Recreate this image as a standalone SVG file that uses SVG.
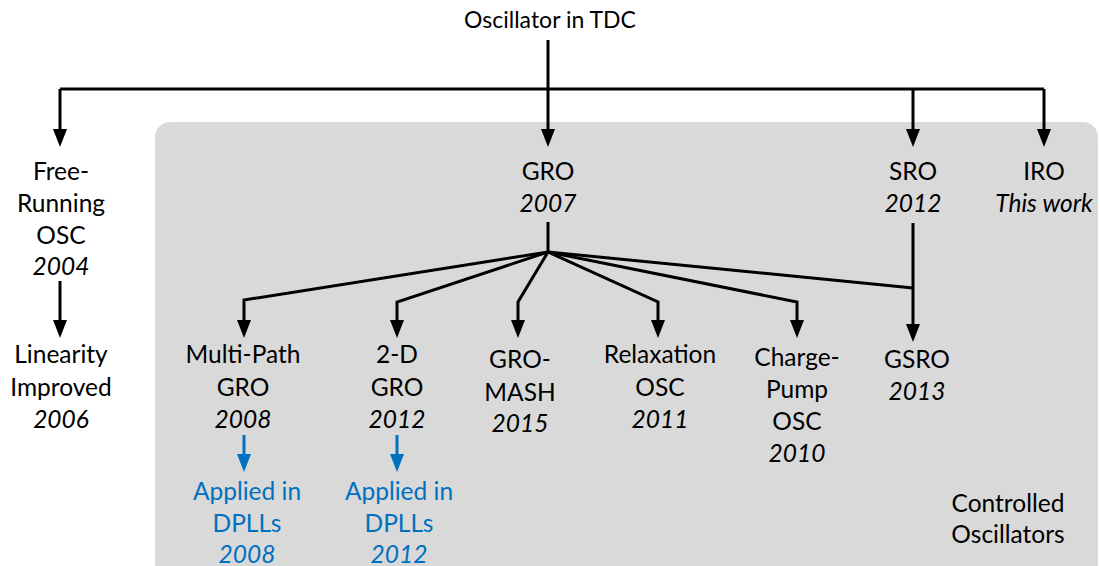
<svg xmlns="http://www.w3.org/2000/svg" width="1100" height="566" viewBox="0 0 1100 566">
  <defs>
    <style>
      text { font-family: Lato, "Open Sans", "Liberation Sans", sans-serif; font-size: 24.5px; fill: #000; text-anchor: middle; }
      .title { font-size: 23px; }
      .yr { font-style: italic; }
      .blue { fill: #0070c0; }
      .ln { fill: none; stroke: #000; stroke-width: 3; stroke-linejoin: miter; }
      .bln { fill: none; stroke: #0070c0; stroke-width: 3; }
    </style>
    <marker id="ah" markerUnits="userSpaceOnUse" markerWidth="18" markerHeight="14" refX="0" refY="7" orient="auto">
      <path d="M0,0 L18,7 L0,14 z" fill="#000"/>
    </marker>
    <marker id="ahb" markerUnits="userSpaceOnUse" markerWidth="18" markerHeight="14" refX="0" refY="7" orient="auto">
      <path d="M0,0 L18,7 L0,14 z" fill="#0070c0"/>
    </marker>
  </defs>

  <!-- shaded region for controlled oscillators -->
  <rect id="controlled-region" x="155" y="122" width="943" height="460" rx="15" ry="15" fill="#d9d9d9"/>

  <!-- connectors -->
  <g id="connectors">
    <path class="ln" d="M548,40 L548,89"/>
    <path class="ln" d="M60,89 L1044,89"/>
    <path class="ln" d="M60,89 L60,129" marker-end="url(#ah)"/>
    <path class="ln" d="M548,89 L548,129" marker-end="url(#ah)"/>
    <path class="ln" d="M913,89 L913,129" marker-end="url(#ah)"/>
    <path class="ln" d="M1044,89 L1044,129" marker-end="url(#ah)"/>
    <path class="ln" d="M60,281 L60,320" marker-end="url(#ah)"/>
    <path class="ln" d="M548,222 L548,252"/>
    <path class="ln" d="M548,252 L244,300 L244,320" marker-end="url(#ah)"/>
    <path class="ln" d="M548,252 L397,302 L397,320" marker-end="url(#ah)"/>
    <path class="ln" d="M548,252 L518,302 L518,320" marker-end="url(#ah)"/>
    <path class="ln" d="M548,252 L658,302 L658,320" marker-end="url(#ah)"/>
    <path class="ln" d="M548,252 L797,302 L797,320" marker-end="url(#ah)"/>
    <path class="ln" d="M548,252 L913,288"/>
    <path class="ln" d="M913,223 L913,324" marker-end="url(#ah)"/>
    <path class="bln" d="M244,435 L244,454" marker-end="url(#ahb)"/>
    <path class="bln" d="M397,435 L397,454" marker-end="url(#ahb)"/>
  </g>

  <g id="root"><text x="550" y="28" class="title">Oscillator in TDC</text></g>

  <g id="free-running">
    <text x="61" y="180">Free-</text>
    <text x="61" y="212">Running</text>
    <text x="61" y="244">OSC</text>
    <text x="61" y="275" class="yr">2004</text>
  </g>
  <g id="linearity">
    <text x="61" y="363">Linearity</text>
    <text x="61" y="396">Improved</text>
    <text x="61" y="428" class="yr">2006</text>
  </g>

  <g id="gro">
    <text x="548" y="180">GRO</text>
    <text x="548" y="212" class="yr">2007</text>
  </g>
  <g id="sro">
    <text x="913" y="180">SRO</text>
    <text x="913" y="212" class="yr">2012</text>
  </g>
  <g id="iro">
    <text x="1044" y="180">IRO</text>
    <text x="1044" y="212" class="yr">This work</text>
  </g>

  <g id="multipath-gro">
    <text x="243" y="363">Multi-Path</text>
    <text x="243" y="396">GRO</text>
    <text x="243" y="428" class="yr">2008</text>
  </g>
  <g id="twod-gro">
    <text x="397" y="363">2-D</text>
    <text x="397" y="396">GRO</text>
    <text x="397" y="428" class="yr">2012</text>
  </g>
  <g id="gro-mash">
    <text x="520" y="368">GRO-</text>
    <text x="520" y="401">MASH</text>
    <text x="520" y="432" class="yr">2015</text>
  </g>
  <g id="relaxation">
    <text x="660" y="363">Relaxation</text>
    <text x="660" y="396">OSC</text>
    <text x="660" y="428" class="yr">2011</text>
  </g>
  <g id="charge-pump">
    <text x="797" y="366">Charge-</text>
    <text x="797" y="398">Pump</text>
    <text x="797" y="430">OSC</text>
    <text x="797" y="462" class="yr">2010</text>
  </g>
  <g id="gsro">
    <text x="917" y="368">GSRO</text>
    <text x="917" y="400" class="yr">2013</text>
  </g>

  <g id="dpll-2008">
    <text x="247" y="500" class="blue">Applied in</text>
    <text x="247" y="532" class="blue">DPLLs</text>
    <text x="247" y="563" class="blue yr">2008</text>
  </g>
  <g id="dpll-2012">
    <text x="399" y="500" class="blue">Applied in</text>
    <text x="399" y="532" class="blue">DPLLs</text>
    <text x="399" y="563" class="blue yr">2012</text>
  </g>

  <g id="region-label">
    <text x="1008" y="512">Controlled</text>
    <text x="1008" y="543">Oscillators</text>
  </g>
</svg>
